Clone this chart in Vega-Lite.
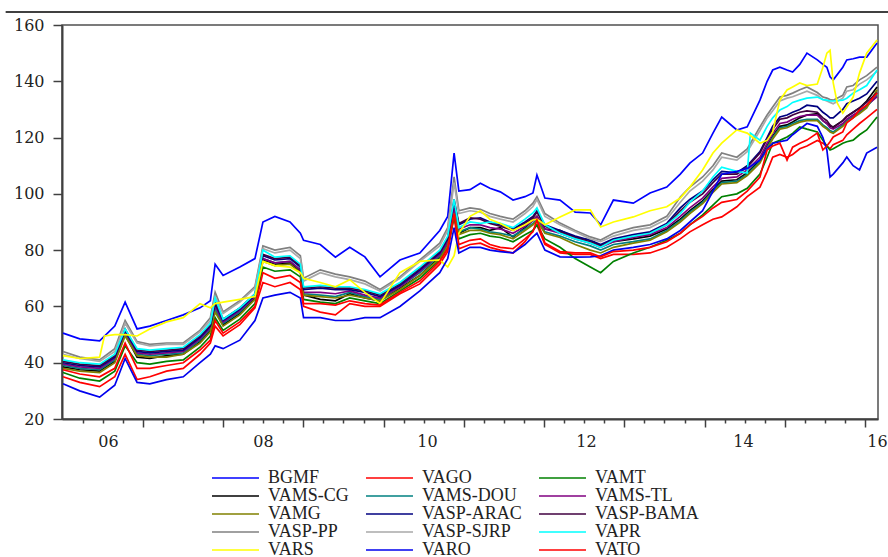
{
"$schema": "https://vega.github.io/schema/vega-lite/v6.json",
"width": 816, "height": 394,
"autosize": {"type": "none"},
"padding": {"left": 62, "top": 25, "right": 10, "bottom": 138},
"background": "white",
"config": {"view": {"stroke": "#505050", "strokeWidth": 1.5}},
"datasets": {"prices": [
{"s":"BGMF","t":2005.45,"v":50.5},{"s":"BGMF","t":2005.66,"v":48.5},{"s":"BGMF","t":2005.91,"v":47.8},{"s":"BGMF","t":2006.10,"v":53},{"s":"BGMF","t":2006.23,"v":61.5},{"s":"BGMF","t":2006.38,"v":52},{"s":"BGMF","t":2006.54,"v":53},{"s":"BGMF","t":2006.75,"v":55},{"s":"BGMF","t":2006.96,"v":57},{"s":"BGMF","t":2007.17,"v":59.5},{"s":"BGMF","t":2007.30,"v":62},{"s":"BGMF","t":2007.36,"v":75},{"s":"BGMF","t":2007.46,"v":71},{"s":"BGMF","t":2007.67,"v":74},{"s":"BGMF","t":2007.86,"v":77},{"s":"BGMF","t":2007.96,"v":90},{"s":"BGMF","t":2008.11,"v":92},{"s":"BGMF","t":2008.30,"v":90},{"s":"BGMF","t":2008.43,"v":86},{"s":"BGMF","t":2008.47,"v":83.5},{"s":"BGMF","t":2008.68,"v":82},{"s":"BGMF","t":2008.87,"v":77.5},{"s":"BGMF","t":2009.05,"v":81},{"s":"BGMF","t":2009.24,"v":77.6},{"s":"BGMF","t":2009.43,"v":70.5},{"s":"BGMF","t":2009.68,"v":76.5},{"s":"BGMF","t":2009.93,"v":79},{"s":"BGMF","t":2010.18,"v":87},{"s":"BGMF","t":2010.28,"v":92},{"s":"BGMF","t":2010.36,"v":114.5},{"s":"BGMF","t":2010.42,"v":101},{"s":"BGMF","t":2010.56,"v":101.5},{"s":"BGMF","t":2010.69,"v":103.8},{"s":"BGMF","t":2010.81,"v":102},{"s":"BGMF","t":2010.94,"v":100.7},{"s":"BGMF","t":2011.10,"v":97.8},{"s":"BGMF","t":2011.25,"v":99},{"s":"BGMF","t":2011.35,"v":100.3},{"s":"BGMF","t":2011.40,"v":106.7},{"s":"BGMF","t":2011.50,"v":98.5},{"s":"BGMF","t":2011.69,"v":97.8},{"s":"BGMF","t":2011.88,"v":93.5},{"s":"BGMF","t":2012.07,"v":93.2},{"s":"BGMF","t":2012.20,"v":89},{"s":"BGMF","t":2012.36,"v":97.8},{"s":"BGMF","t":2012.61,"v":96.7},{"s":"BGMF","t":2012.82,"v":100.3},{"s":"BGMF","t":2013.03,"v":102.4},{"s":"BGMF","t":2013.20,"v":107},{"s":"BGMF","t":2013.32,"v":110.9},{"s":"BGMF","t":2013.48,"v":114.5},{"s":"BGMF","t":2013.61,"v":121.6},{"s":"BGMF","t":2013.72,"v":127.3},{"s":"BGMF","t":2013.91,"v":122.7},{"s":"BGMF","t":2014.04,"v":123.8},{"s":"BGMF","t":2014.20,"v":133.3},{"s":"BGMF","t":2014.29,"v":140},{"s":"BGMF","t":2014.36,"v":144},{"s":"BGMF","t":2014.45,"v":145},{"s":"BGMF","t":2014.54,"v":144},{"s":"BGMF","t":2014.61,"v":143.3},{"s":"BGMF","t":2014.70,"v":146},{"s":"BGMF","t":2014.79,"v":150},{"s":"BGMF","t":2014.92,"v":147.6},{"s":"BGMF","t":2014.99,"v":146},{"s":"BGMF","t":2015.04,"v":145},{"s":"BGMF","t":2015.08,"v":141.6},{"s":"BGMF","t":2015.12,"v":140.5},{"s":"BGMF","t":2015.24,"v":145},{"s":"BGMF","t":2015.29,"v":147.6},{"s":"BGMF","t":2015.37,"v":148},{"s":"BGMF","t":2015.45,"v":148.6},{"s":"BGMF","t":2015.54,"v":148.6},{"s":"BGMF","t":2015.67,"v":153.6},
{"s":"VAGO","t":2005.45,"v":35},{"s":"VAGO","t":2005.66,"v":33},{"s":"VAGO","t":2005.91,"v":31.5},{"s":"VAGO","t":2006.10,"v":35},{"s":"VAGO","t":2006.23,"v":43},{"s":"VAGO","t":2006.38,"v":34},{"s":"VAGO","t":2006.54,"v":35},{"s":"VAGO","t":2006.75,"v":37},{"s":"VAGO","t":2006.96,"v":38},{"s":"VAGO","t":2007.17,"v":43},{"s":"VAGO","t":2007.30,"v":47},{"s":"VAGO","t":2007.36,"v":53},{"s":"VAGO","t":2007.46,"v":49.5},{"s":"VAGO","t":2007.67,"v":53.5},{"s":"VAGO","t":2007.86,"v":59.5},{"s":"VAGO","t":2007.96,"v":68.5},{"s":"VAGO","t":2008.11,"v":67},{"s":"VAGO","t":2008.30,"v":68.5},{"s":"VAGO","t":2008.43,"v":66},{"s":"VAGO","t":2008.47,"v":60},{"s":"VAGO","t":2008.68,"v":58},{"s":"VAGO","t":2008.87,"v":57},{"s":"VAGO","t":2009.05,"v":61},{"s":"VAGO","t":2009.24,"v":60},{"s":"VAGO","t":2009.43,"v":60},{"s":"VAGO","t":2009.68,"v":64.5},{"s":"VAGO","t":2009.93,"v":68},{"s":"VAGO","t":2010.18,"v":75},{"s":"VAGO","t":2010.28,"v":79.5},{"s":"VAGO","t":2010.36,"v":92},{"s":"VAGO","t":2010.42,"v":80.5},{"s":"VAGO","t":2010.56,"v":82},{"s":"VAGO","t":2010.69,"v":82.5},{"s":"VAGO","t":2010.81,"v":81},{"s":"VAGO","t":2010.94,"v":80},{"s":"VAGO","t":2011.10,"v":79},{"s":"VAGO","t":2011.25,"v":83},{"s":"VAGO","t":2011.35,"v":87},{"s":"VAGO","t":2011.40,"v":89},{"s":"VAGO","t":2011.50,"v":82},{"s":"VAGO","t":2011.69,"v":79},{"s":"VAGO","t":2011.88,"v":78.5},{"s":"VAGO","t":2012.07,"v":78.5},{"s":"VAGO","t":2012.20,"v":77},{"s":"VAGO","t":2012.36,"v":78.5},{"s":"VAGO","t":2012.61,"v":78.5},{"s":"VAGO","t":2012.82,"v":79},{"s":"VAGO","t":2013.03,"v":81},{"s":"VAGO","t":2013.20,"v":84},{"s":"VAGO","t":2013.32,"v":86.5},{"s":"VAGO","t":2013.48,"v":89},{"s":"VAGO","t":2013.61,"v":91},{"s":"VAGO","t":2013.72,"v":91.8},{"s":"VAGO","t":2013.91,"v":95.4},{"s":"VAGO","t":2014.04,"v":99},{"s":"VAGO","t":2014.20,"v":102.4},{"s":"VAGO","t":2014.29,"v":108},{"s":"VAGO","t":2014.36,"v":113},{"s":"VAGO","t":2014.45,"v":114},{"s":"VAGO","t":2014.54,"v":113},{"s":"VAGO","t":2014.61,"v":114},{"s":"VAGO","t":2014.70,"v":116},{"s":"VAGO","t":2014.79,"v":117},{"s":"VAGO","t":2014.92,"v":119},{"s":"VAGO","t":2014.99,"v":118},{"s":"VAGO","t":2015.04,"v":117},{"s":"VAGO","t":2015.08,"v":116},{"s":"VAGO","t":2015.12,"v":117.5},{"s":"VAGO","t":2015.24,"v":119},{"s":"VAGO","t":2015.29,"v":121},{"s":"VAGO","t":2015.37,"v":123},{"s":"VAGO","t":2015.45,"v":125},{"s":"VAGO","t":2015.54,"v":127},{"s":"VAGO","t":2015.67,"v":130},
{"s":"VAMT","t":2005.45,"v":36.5},{"s":"VAMT","t":2005.66,"v":34.5},{"s":"VAMT","t":2005.91,"v":33.5},{"s":"VAMT","t":2006.10,"v":37},{"s":"VAMT","t":2006.23,"v":46},{"s":"VAMT","t":2006.38,"v":40},{"s":"VAMT","t":2006.54,"v":39.5},{"s":"VAMT","t":2006.75,"v":40.5},{"s":"VAMT","t":2006.96,"v":41},{"s":"VAMT","t":2007.17,"v":45.5},{"s":"VAMT","t":2007.30,"v":49.5},{"s":"VAMT","t":2007.36,"v":56},{"s":"VAMT","t":2007.46,"v":51.5},{"s":"VAMT","t":2007.67,"v":55.5},{"s":"VAMT","t":2007.86,"v":61},{"s":"VAMT","t":2007.96,"v":74},{"s":"VAMT","t":2008.11,"v":72.5},{"s":"VAMT","t":2008.30,"v":73},{"s":"VAMT","t":2008.43,"v":70.5},{"s":"VAMT","t":2008.47,"v":62.5},{"s":"VAMT","t":2008.68,"v":61.5},{"s":"VAMT","t":2008.87,"v":61},{"s":"VAMT","t":2009.05,"v":63},{"s":"VAMT","t":2009.24,"v":62},{"s":"VAMT","t":2009.43,"v":61},{"s":"VAMT","t":2009.68,"v":65.5},{"s":"VAMT","t":2009.93,"v":70},{"s":"VAMT","t":2010.18,"v":76.5},{"s":"VAMT","t":2010.28,"v":81},{"s":"VAMT","t":2010.36,"v":92},{"s":"VAMT","t":2010.42,"v":84},{"s":"VAMT","t":2010.56,"v":85.5},{"s":"VAMT","t":2010.69,"v":86},{"s":"VAMT","t":2010.81,"v":85},{"s":"VAMT","t":2010.94,"v":84.5},{"s":"VAMT","t":2011.10,"v":83},{"s":"VAMT","t":2011.25,"v":85.5},{"s":"VAMT","t":2011.35,"v":87},{"s":"VAMT","t":2011.40,"v":89},{"s":"VAMT","t":2011.50,"v":84},{"s":"VAMT","t":2011.69,"v":81},{"s":"VAMT","t":2011.88,"v":77},{"s":"VAMT","t":2012.07,"v":74},{"s":"VAMT","t":2012.20,"v":72},{"s":"VAMT","t":2012.36,"v":76},{"s":"VAMT","t":2012.61,"v":79},{"s":"VAMT","t":2012.82,"v":81},{"s":"VAMT","t":2013.03,"v":83.5},{"s":"VAMT","t":2013.20,"v":86},{"s":"VAMT","t":2013.32,"v":89},{"s":"VAMT","t":2013.48,"v":92.5},{"s":"VAMT","t":2013.61,"v":96},{"s":"VAMT","t":2013.72,"v":99},{"s":"VAMT","t":2013.91,"v":100},{"s":"VAMT","t":2014.04,"v":102},{"s":"VAMT","t":2014.20,"v":107},{"s":"VAMT","t":2014.29,"v":113},{"s":"VAMT","t":2014.36,"v":118},{"s":"VAMT","t":2014.45,"v":119},{"s":"VAMT","t":2014.54,"v":120.2},{"s":"VAMT","t":2014.61,"v":121.5},{"s":"VAMT","t":2014.70,"v":123.8},{"s":"VAMT","t":2014.79,"v":123},{"s":"VAMT","t":2014.92,"v":122},{"s":"VAMT","t":2014.99,"v":119},{"s":"VAMT","t":2015.04,"v":117},{"s":"VAMT","t":2015.08,"v":115.6},{"s":"VAMT","t":2015.12,"v":116},{"s":"VAMT","t":2015.24,"v":118},{"s":"VAMT","t":2015.29,"v":118.5},{"s":"VAMT","t":2015.37,"v":119.1},{"s":"VAMT","t":2015.45,"v":121},{"s":"VAMT","t":2015.54,"v":122.7},{"s":"VAMT","t":2015.67,"v":127.3},
{"s":"VAMS-CG","t":2005.45,"v":38.5},{"s":"VAMS-CG","t":2005.66,"v":37.5},{"s":"VAMS-CG","t":2005.91,"v":37},{"s":"VAMS-CG","t":2006.10,"v":40.5},{"s":"VAMS-CG","t":2006.23,"v":50},{"s":"VAMS-CG","t":2006.38,"v":42},{"s":"VAMS-CG","t":2006.54,"v":41.5},{"s":"VAMS-CG","t":2006.75,"v":42.5},{"s":"VAMS-CG","t":2006.96,"v":43},{"s":"VAMS-CG","t":2007.17,"v":47.5},{"s":"VAMS-CG","t":2007.30,"v":51.5},{"s":"VAMS-CG","t":2007.36,"v":58.5},{"s":"VAMS-CG","t":2007.46,"v":53.5},{"s":"VAMS-CG","t":2007.67,"v":57.5},{"s":"VAMS-CG","t":2007.86,"v":63},{"s":"VAMS-CG","t":2007.96,"v":76.5},{"s":"VAMS-CG","t":2008.11,"v":75},{"s":"VAMS-CG","t":2008.30,"v":75.5},{"s":"VAMS-CG","t":2008.43,"v":72.5},{"s":"VAMS-CG","t":2008.47,"v":64},{"s":"VAMS-CG","t":2008.68,"v":62.5},{"s":"VAMS-CG","t":2008.87,"v":62},{"s":"VAMS-CG","t":2009.05,"v":64.5},{"s":"VAMS-CG","t":2009.24,"v":63},{"s":"VAMS-CG","t":2009.43,"v":62},{"s":"VAMS-CG","t":2009.68,"v":66.5},{"s":"VAMS-CG","t":2009.93,"v":71},{"s":"VAMS-CG","t":2010.18,"v":77.5},{"s":"VAMS-CG","t":2010.28,"v":82},{"s":"VAMS-CG","t":2010.36,"v":94},{"s":"VAMS-CG","t":2010.42,"v":86},{"s":"VAMS-CG","t":2010.56,"v":88},{"s":"VAMS-CG","t":2010.69,"v":88},{"s":"VAMS-CG","t":2010.81,"v":87},{"s":"VAMS-CG","t":2010.94,"v":88},{"s":"VAMS-CG","t":2011.10,"v":84.7},{"s":"VAMS-CG","t":2011.25,"v":88},{"s":"VAMS-CG","t":2011.35,"v":90.7},{"s":"VAMS-CG","t":2011.40,"v":92},{"s":"VAMS-CG","t":2011.50,"v":87.5},{"s":"VAMS-CG","t":2011.69,"v":87},{"s":"VAMS-CG","t":2011.88,"v":84.5},{"s":"VAMS-CG","t":2012.07,"v":83.6},{"s":"VAMS-CG","t":2012.20,"v":81.5},{"s":"VAMS-CG","t":2012.36,"v":83},{"s":"VAMS-CG","t":2012.61,"v":84},{"s":"VAMS-CG","t":2012.82,"v":85},{"s":"VAMS-CG","t":2013.03,"v":87.5},{"s":"VAMS-CG","t":2013.20,"v":91},{"s":"VAMS-CG","t":2013.32,"v":94},{"s":"VAMS-CG","t":2013.48,"v":97.5},{"s":"VAMS-CG","t":2013.61,"v":101.5},{"s":"VAMS-CG","t":2013.72,"v":104.5},{"s":"VAMS-CG","t":2013.91,"v":105},{"s":"VAMS-CG","t":2014.04,"v":107.5},{"s":"VAMS-CG","t":2014.20,"v":112},{"s":"VAMS-CG","t":2014.29,"v":117},{"s":"VAMS-CG","t":2014.36,"v":120.5},{"s":"VAMS-CG","t":2014.45,"v":124},{"s":"VAMS-CG","t":2014.54,"v":124.5},{"s":"VAMS-CG","t":2014.61,"v":125.5},{"s":"VAMS-CG","t":2014.70,"v":127},{"s":"VAMS-CG","t":2014.79,"v":128},{"s":"VAMS-CG","t":2014.92,"v":128.5},{"s":"VAMS-CG","t":2014.99,"v":126},{"s":"VAMS-CG","t":2015.04,"v":125},{"s":"VAMS-CG","t":2015.08,"v":124},{"s":"VAMS-CG","t":2015.12,"v":123.8},{"s":"VAMS-CG","t":2015.24,"v":126},{"s":"VAMS-CG","t":2015.29,"v":127.5},{"s":"VAMS-CG","t":2015.37,"v":129},{"s":"VAMS-CG","t":2015.45,"v":130.5},{"s":"VAMS-CG","t":2015.54,"v":133},{"s":"VAMS-CG","t":2015.67,"v":138},
{"s":"VAMS-DOU","t":2005.45,"v":39},{"s":"VAMS-DOU","t":2005.66,"v":38},{"s":"VAMS-DOU","t":2005.91,"v":37.5},{"s":"VAMS-DOU","t":2006.10,"v":41},{"s":"VAMS-DOU","t":2006.23,"v":50.5},{"s":"VAMS-DOU","t":2006.38,"v":43},{"s":"VAMS-DOU","t":2006.54,"v":42.5},{"s":"VAMS-DOU","t":2006.75,"v":43},{"s":"VAMS-DOU","t":2006.96,"v":43.5},{"s":"VAMS-DOU","t":2007.17,"v":48},{"s":"VAMS-DOU","t":2007.30,"v":52},{"s":"VAMS-DOU","t":2007.36,"v":59},{"s":"VAMS-DOU","t":2007.46,"v":54},{"s":"VAMS-DOU","t":2007.67,"v":58},{"s":"VAMS-DOU","t":2007.86,"v":63.5},{"s":"VAMS-DOU","t":2007.96,"v":77},{"s":"VAMS-DOU","t":2008.11,"v":75.5},{"s":"VAMS-DOU","t":2008.30,"v":76},{"s":"VAMS-DOU","t":2008.43,"v":73},{"s":"VAMS-DOU","t":2008.47,"v":64.5},{"s":"VAMS-DOU","t":2008.68,"v":64},{"s":"VAMS-DOU","t":2008.87,"v":63.5},{"s":"VAMS-DOU","t":2009.05,"v":65},{"s":"VAMS-DOU","t":2009.24,"v":63.5},{"s":"VAMS-DOU","t":2009.43,"v":62.5},{"s":"VAMS-DOU","t":2009.68,"v":67},{"s":"VAMS-DOU","t":2009.93,"v":72},{"s":"VAMS-DOU","t":2010.18,"v":78},{"s":"VAMS-DOU","t":2010.28,"v":82.5},{"s":"VAMS-DOU","t":2010.36,"v":94.5},{"s":"VAMS-DOU","t":2010.42,"v":86.5},{"s":"VAMS-DOU","t":2010.56,"v":88},{"s":"VAMS-DOU","t":2010.69,"v":87.5},{"s":"VAMS-DOU","t":2010.81,"v":86.5},{"s":"VAMS-DOU","t":2010.94,"v":86},{"s":"VAMS-DOU","t":2011.10,"v":85},{"s":"VAMS-DOU","t":2011.25,"v":87.5},{"s":"VAMS-DOU","t":2011.35,"v":89.5},{"s":"VAMS-DOU","t":2011.40,"v":91},{"s":"VAMS-DOU","t":2011.50,"v":86.5},{"s":"VAMS-DOU","t":2011.69,"v":85},{"s":"VAMS-DOU","t":2011.88,"v":83},{"s":"VAMS-DOU","t":2012.07,"v":81.5},{"s":"VAMS-DOU","t":2012.20,"v":80},{"s":"VAMS-DOU","t":2012.36,"v":82},{"s":"VAMS-DOU","t":2012.61,"v":83},{"s":"VAMS-DOU","t":2012.82,"v":84},{"s":"VAMS-DOU","t":2013.03,"v":87},{"s":"VAMS-DOU","t":2013.20,"v":90.5},{"s":"VAMS-DOU","t":2013.32,"v":93.5},{"s":"VAMS-DOU","t":2013.48,"v":97},{"s":"VAMS-DOU","t":2013.61,"v":101},{"s":"VAMS-DOU","t":2013.72,"v":104},{"s":"VAMS-DOU","t":2013.91,"v":104.5},{"s":"VAMS-DOU","t":2014.04,"v":107},{"s":"VAMS-DOU","t":2014.20,"v":111.5},{"s":"VAMS-DOU","t":2014.29,"v":116.5},{"s":"VAMS-DOU","t":2014.36,"v":120},{"s":"VAMS-DOU","t":2014.45,"v":123.5},{"s":"VAMS-DOU","t":2014.54,"v":124},{"s":"VAMS-DOU","t":2014.61,"v":125},{"s":"VAMS-DOU","t":2014.70,"v":126},{"s":"VAMS-DOU","t":2014.79,"v":126.5},{"s":"VAMS-DOU","t":2014.92,"v":126.5},{"s":"VAMS-DOU","t":2014.99,"v":124.5},{"s":"VAMS-DOU","t":2015.04,"v":123.5},{"s":"VAMS-DOU","t":2015.08,"v":122.5},{"s":"VAMS-DOU","t":2015.12,"v":122},{"s":"VAMS-DOU","t":2015.24,"v":124.5},{"s":"VAMS-DOU","t":2015.29,"v":126},{"s":"VAMS-DOU","t":2015.37,"v":127.5},{"s":"VAMS-DOU","t":2015.45,"v":129},{"s":"VAMS-DOU","t":2015.54,"v":131},{"s":"VAMS-DOU","t":2015.67,"v":135},
{"s":"VAMS-TL","t":2005.45,"v":39.5},{"s":"VAMS-TL","t":2005.66,"v":38.5},{"s":"VAMS-TL","t":2005.91,"v":38},{"s":"VAMS-TL","t":2006.10,"v":41.5},{"s":"VAMS-TL","t":2006.23,"v":51},{"s":"VAMS-TL","t":2006.38,"v":43.5},{"s":"VAMS-TL","t":2006.54,"v":43},{"s":"VAMS-TL","t":2006.75,"v":43.5},{"s":"VAMS-TL","t":2006.96,"v":44},{"s":"VAMS-TL","t":2007.17,"v":48.5},{"s":"VAMS-TL","t":2007.30,"v":52.5},{"s":"VAMS-TL","t":2007.36,"v":60},{"s":"VAMS-TL","t":2007.46,"v":54.5},{"s":"VAMS-TL","t":2007.67,"v":58.5},{"s":"VAMS-TL","t":2007.86,"v":63.5},{"s":"VAMS-TL","t":2007.96,"v":77},{"s":"VAMS-TL","t":2008.11,"v":75.5},{"s":"VAMS-TL","t":2008.30,"v":76},{"s":"VAMS-TL","t":2008.43,"v":73},{"s":"VAMS-TL","t":2008.47,"v":65},{"s":"VAMS-TL","t":2008.68,"v":65},{"s":"VAMS-TL","t":2008.87,"v":64.5},{"s":"VAMS-TL","t":2009.05,"v":65.5},{"s":"VAMS-TL","t":2009.24,"v":64},{"s":"VAMS-TL","t":2009.43,"v":63},{"s":"VAMS-TL","t":2009.68,"v":67},{"s":"VAMS-TL","t":2009.93,"v":72.5},{"s":"VAMS-TL","t":2010.18,"v":78.5},{"s":"VAMS-TL","t":2010.28,"v":83},{"s":"VAMS-TL","t":2010.36,"v":95},{"s":"VAMS-TL","t":2010.42,"v":87.5},{"s":"VAMS-TL","t":2010.56,"v":89},{"s":"VAMS-TL","t":2010.69,"v":89},{"s":"VAMS-TL","t":2010.81,"v":88},{"s":"VAMS-TL","t":2010.94,"v":87.5},{"s":"VAMS-TL","t":2011.10,"v":86},{"s":"VAMS-TL","t":2011.25,"v":88.5},{"s":"VAMS-TL","t":2011.35,"v":90.5},{"s":"VAMS-TL","t":2011.40,"v":92},{"s":"VAMS-TL","t":2011.50,"v":87.5},{"s":"VAMS-TL","t":2011.69,"v":86},{"s":"VAMS-TL","t":2011.88,"v":84},{"s":"VAMS-TL","t":2012.07,"v":82.5},{"s":"VAMS-TL","t":2012.20,"v":81},{"s":"VAMS-TL","t":2012.36,"v":83},{"s":"VAMS-TL","t":2012.61,"v":84.5},{"s":"VAMS-TL","t":2012.82,"v":85.5},{"s":"VAMS-TL","t":2013.03,"v":88},{"s":"VAMS-TL","t":2013.20,"v":92},{"s":"VAMS-TL","t":2013.32,"v":95},{"s":"VAMS-TL","t":2013.48,"v":98.5},{"s":"VAMS-TL","t":2013.61,"v":102.5},{"s":"VAMS-TL","t":2013.72,"v":105.5},{"s":"VAMS-TL","t":2013.91,"v":106},{"s":"VAMS-TL","t":2014.04,"v":108.5},{"s":"VAMS-TL","t":2014.20,"v":113},{"s":"VAMS-TL","t":2014.29,"v":118},{"s":"VAMS-TL","t":2014.36,"v":121.5},{"s":"VAMS-TL","t":2014.45,"v":125},{"s":"VAMS-TL","t":2014.54,"v":125.5},{"s":"VAMS-TL","t":2014.61,"v":126.5},{"s":"VAMS-TL","t":2014.70,"v":127.5},{"s":"VAMS-TL","t":2014.79,"v":128},{"s":"VAMS-TL","t":2014.92,"v":128},{"s":"VAMS-TL","t":2014.99,"v":126},{"s":"VAMS-TL","t":2015.04,"v":125},{"s":"VAMS-TL","t":2015.08,"v":123.5},{"s":"VAMS-TL","t":2015.12,"v":123},{"s":"VAMS-TL","t":2015.24,"v":125},{"s":"VAMS-TL","t":2015.29,"v":126.5},{"s":"VAMS-TL","t":2015.37,"v":128},{"s":"VAMS-TL","t":2015.45,"v":129.5},{"s":"VAMS-TL","t":2015.54,"v":131.5},{"s":"VAMS-TL","t":2015.67,"v":134.5},
{"s":"VAMG","t":2005.45,"v":38},{"s":"VAMG","t":2005.66,"v":37},{"s":"VAMG","t":2005.91,"v":36.5},{"s":"VAMG","t":2006.10,"v":40},{"s":"VAMG","t":2006.23,"v":49.5},{"s":"VAMG","t":2006.38,"v":42.5},{"s":"VAMG","t":2006.54,"v":42},{"s":"VAMG","t":2006.75,"v":42},{"s":"VAMG","t":2006.96,"v":43},{"s":"VAMG","t":2007.17,"v":47},{"s":"VAMG","t":2007.30,"v":51},{"s":"VAMG","t":2007.36,"v":58},{"s":"VAMG","t":2007.46,"v":53},{"s":"VAMG","t":2007.67,"v":57},{"s":"VAMG","t":2007.86,"v":62.5},{"s":"VAMG","t":2007.96,"v":76},{"s":"VAMG","t":2008.11,"v":74.5},{"s":"VAMG","t":2008.30,"v":75},{"s":"VAMG","t":2008.43,"v":72},{"s":"VAMG","t":2008.47,"v":64},{"s":"VAMG","t":2008.68,"v":63.5},{"s":"VAMG","t":2008.87,"v":63},{"s":"VAMG","t":2009.05,"v":64},{"s":"VAMG","t":2009.24,"v":63},{"s":"VAMG","t":2009.43,"v":62},{"s":"VAMG","t":2009.68,"v":66},{"s":"VAMG","t":2009.93,"v":71},{"s":"VAMG","t":2010.18,"v":77},{"s":"VAMG","t":2010.28,"v":81.5},{"s":"VAMG","t":2010.36,"v":93},{"s":"VAMG","t":2010.42,"v":85.5},{"s":"VAMG","t":2010.56,"v":87},{"s":"VAMG","t":2010.69,"v":87},{"s":"VAMG","t":2010.81,"v":86},{"s":"VAMG","t":2010.94,"v":85.5},{"s":"VAMG","t":2011.10,"v":84},{"s":"VAMG","t":2011.25,"v":87},{"s":"VAMG","t":2011.35,"v":89},{"s":"VAMG","t":2011.40,"v":90.5},{"s":"VAMG","t":2011.50,"v":86},{"s":"VAMG","t":2011.69,"v":84.5},{"s":"VAMG","t":2011.88,"v":82},{"s":"VAMG","t":2012.07,"v":80},{"s":"VAMG","t":2012.20,"v":79},{"s":"VAMG","t":2012.36,"v":81},{"s":"VAMG","t":2012.61,"v":82.5},{"s":"VAMG","t":2012.82,"v":83.5},{"s":"VAMG","t":2013.03,"v":86.5},{"s":"VAMG","t":2013.20,"v":90},{"s":"VAMG","t":2013.32,"v":93},{"s":"VAMG","t":2013.48,"v":96.5},{"s":"VAMG","t":2013.61,"v":100.5},{"s":"VAMG","t":2013.72,"v":103.5},{"s":"VAMG","t":2013.91,"v":104},{"s":"VAMG","t":2014.04,"v":106.5},{"s":"VAMG","t":2014.20,"v":111},{"s":"VAMG","t":2014.29,"v":116},{"s":"VAMG","t":2014.36,"v":119.5},{"s":"VAMG","t":2014.45,"v":123},{"s":"VAMG","t":2014.54,"v":123.5},{"s":"VAMG","t":2014.61,"v":124.5},{"s":"VAMG","t":2014.70,"v":125.5},{"s":"VAMG","t":2014.79,"v":126},{"s":"VAMG","t":2014.92,"v":126},{"s":"VAMG","t":2014.99,"v":124},{"s":"VAMG","t":2015.04,"v":123},{"s":"VAMG","t":2015.08,"v":122},{"s":"VAMG","t":2015.12,"v":121.5},{"s":"VAMG","t":2015.24,"v":124},{"s":"VAMG","t":2015.29,"v":125.5},{"s":"VAMG","t":2015.37,"v":127},{"s":"VAMG","t":2015.45,"v":128.5},{"s":"VAMG","t":2015.54,"v":130.5},{"s":"VAMG","t":2015.67,"v":137},
{"s":"VASP-ARAC","t":2005.45,"v":40},{"s":"VASP-ARAC","t":2005.66,"v":39},{"s":"VASP-ARAC","t":2005.91,"v":38.5},{"s":"VASP-ARAC","t":2006.10,"v":42},{"s":"VASP-ARAC","t":2006.23,"v":51.5},{"s":"VASP-ARAC","t":2006.38,"v":44},{"s":"VASP-ARAC","t":2006.54,"v":43.5},{"s":"VASP-ARAC","t":2006.75,"v":44},{"s":"VASP-ARAC","t":2006.96,"v":44.5},{"s":"VASP-ARAC","t":2007.17,"v":49},{"s":"VASP-ARAC","t":2007.30,"v":53},{"s":"VASP-ARAC","t":2007.36,"v":61},{"s":"VASP-ARAC","t":2007.46,"v":55},{"s":"VASP-ARAC","t":2007.67,"v":59},{"s":"VASP-ARAC","t":2007.86,"v":64},{"s":"VASP-ARAC","t":2007.96,"v":78},{"s":"VASP-ARAC","t":2008.11,"v":76.5},{"s":"VASP-ARAC","t":2008.30,"v":77},{"s":"VASP-ARAC","t":2008.43,"v":74},{"s":"VASP-ARAC","t":2008.47,"v":66},{"s":"VASP-ARAC","t":2008.68,"v":66.5},{"s":"VASP-ARAC","t":2008.87,"v":66},{"s":"VASP-ARAC","t":2009.05,"v":66},{"s":"VASP-ARAC","t":2009.24,"v":65},{"s":"VASP-ARAC","t":2009.43,"v":63.5},{"s":"VASP-ARAC","t":2009.68,"v":67.5},{"s":"VASP-ARAC","t":2009.93,"v":73},{"s":"VASP-ARAC","t":2010.18,"v":79},{"s":"VASP-ARAC","t":2010.28,"v":84},{"s":"VASP-ARAC","t":2010.36,"v":97},{"s":"VASP-ARAC","t":2010.42,"v":89},{"s":"VASP-ARAC","t":2010.56,"v":91},{"s":"VASP-ARAC","t":2010.69,"v":91.5},{"s":"VASP-ARAC","t":2010.81,"v":90},{"s":"VASP-ARAC","t":2010.94,"v":89},{"s":"VASP-ARAC","t":2011.10,"v":87.5},{"s":"VASP-ARAC","t":2011.25,"v":90},{"s":"VASP-ARAC","t":2011.35,"v":92},{"s":"VASP-ARAC","t":2011.40,"v":94},{"s":"VASP-ARAC","t":2011.50,"v":89},{"s":"VASP-ARAC","t":2011.69,"v":87},{"s":"VASP-ARAC","t":2011.88,"v":85},{"s":"VASP-ARAC","t":2012.07,"v":83.5},{"s":"VASP-ARAC","t":2012.20,"v":82},{"s":"VASP-ARAC","t":2012.36,"v":84},{"s":"VASP-ARAC","t":2012.61,"v":85.5},{"s":"VASP-ARAC","t":2012.82,"v":86.5},{"s":"VASP-ARAC","t":2013.03,"v":89.5},{"s":"VASP-ARAC","t":2013.20,"v":95},{"s":"VASP-ARAC","t":2013.32,"v":98},{"s":"VASP-ARAC","t":2013.48,"v":101},{"s":"VASP-ARAC","t":2013.61,"v":105},{"s":"VASP-ARAC","t":2013.72,"v":108},{"s":"VASP-ARAC","t":2013.91,"v":107.5},{"s":"VASP-ARAC","t":2014.04,"v":110},{"s":"VASP-ARAC","t":2014.20,"v":115},{"s":"VASP-ARAC","t":2014.29,"v":120},{"s":"VASP-ARAC","t":2014.36,"v":124},{"s":"VASP-ARAC","t":2014.45,"v":127.3},{"s":"VASP-ARAC","t":2014.54,"v":128},{"s":"VASP-ARAC","t":2014.61,"v":129},{"s":"VASP-ARAC","t":2014.70,"v":130},{"s":"VASP-ARAC","t":2014.79,"v":131.5},{"s":"VASP-ARAC","t":2014.92,"v":131},{"s":"VASP-ARAC","t":2014.99,"v":129},{"s":"VASP-ARAC","t":2015.04,"v":128},{"s":"VASP-ARAC","t":2015.08,"v":127},{"s":"VASP-ARAC","t":2015.12,"v":127},{"s":"VASP-ARAC","t":2015.24,"v":130},{"s":"VASP-ARAC","t":2015.29,"v":132},{"s":"VASP-ARAC","t":2015.37,"v":133},{"s":"VASP-ARAC","t":2015.45,"v":134},{"s":"VASP-ARAC","t":2015.54,"v":135.5},{"s":"VASP-ARAC","t":2015.67,"v":140},
{"s":"VASP-BAMA","t":2005.45,"v":40.5},{"s":"VASP-BAMA","t":2005.66,"v":39.5},{"s":"VASP-BAMA","t":2005.91,"v":39},{"s":"VASP-BAMA","t":2006.10,"v":42.5},{"s":"VASP-BAMA","t":2006.23,"v":52},{"s":"VASP-BAMA","t":2006.38,"v":44.5},{"s":"VASP-BAMA","t":2006.54,"v":44},{"s":"VASP-BAMA","t":2006.75,"v":44.5},{"s":"VASP-BAMA","t":2006.96,"v":45},{"s":"VASP-BAMA","t":2007.17,"v":49.5},{"s":"VASP-BAMA","t":2007.30,"v":53.5},{"s":"VASP-BAMA","t":2007.36,"v":61.5},{"s":"VASP-BAMA","t":2007.46,"v":55.5},{"s":"VASP-BAMA","t":2007.67,"v":59.5},{"s":"VASP-BAMA","t":2007.86,"v":64.5},{"s":"VASP-BAMA","t":2007.96,"v":78.5},{"s":"VASP-BAMA","t":2008.11,"v":77},{"s":"VASP-BAMA","t":2008.30,"v":77.5},{"s":"VASP-BAMA","t":2008.43,"v":74.5},{"s":"VASP-BAMA","t":2008.47,"v":66.5},{"s":"VASP-BAMA","t":2008.68,"v":67},{"s":"VASP-BAMA","t":2008.87,"v":66.5},{"s":"VASP-BAMA","t":2009.05,"v":66.5},{"s":"VASP-BAMA","t":2009.24,"v":65.5},{"s":"VASP-BAMA","t":2009.43,"v":64},{"s":"VASP-BAMA","t":2009.68,"v":68},{"s":"VASP-BAMA","t":2009.93,"v":73.5},{"s":"VASP-BAMA","t":2010.18,"v":79.5},{"s":"VASP-BAMA","t":2010.28,"v":84.5},{"s":"VASP-BAMA","t":2010.36,"v":98},{"s":"VASP-BAMA","t":2010.42,"v":89.5},{"s":"VASP-BAMA","t":2010.56,"v":91.5},{"s":"VASP-BAMA","t":2010.69,"v":91},{"s":"VASP-BAMA","t":2010.81,"v":89.5},{"s":"VASP-BAMA","t":2010.94,"v":88.5},{"s":"VASP-BAMA","t":2011.10,"v":87},{"s":"VASP-BAMA","t":2011.25,"v":89.5},{"s":"VASP-BAMA","t":2011.35,"v":91.5},{"s":"VASP-BAMA","t":2011.40,"v":93.5},{"s":"VASP-BAMA","t":2011.50,"v":88.5},{"s":"VASP-BAMA","t":2011.69,"v":86.5},{"s":"VASP-BAMA","t":2011.88,"v":84.5},{"s":"VASP-BAMA","t":2012.07,"v":83},{"s":"VASP-BAMA","t":2012.20,"v":81.5},{"s":"VASP-BAMA","t":2012.36,"v":83.5},{"s":"VASP-BAMA","t":2012.61,"v":85},{"s":"VASP-BAMA","t":2012.82,"v":86},{"s":"VASP-BAMA","t":2013.03,"v":89},{"s":"VASP-BAMA","t":2013.20,"v":94},{"s":"VASP-BAMA","t":2013.32,"v":97},{"s":"VASP-BAMA","t":2013.48,"v":100},{"s":"VASP-BAMA","t":2013.61,"v":104},{"s":"VASP-BAMA","t":2013.72,"v":107},{"s":"VASP-BAMA","t":2013.91,"v":107},{"s":"VASP-BAMA","t":2014.04,"v":109.5},{"s":"VASP-BAMA","t":2014.20,"v":114.5},{"s":"VASP-BAMA","t":2014.29,"v":119.5},{"s":"VASP-BAMA","t":2014.36,"v":123},{"s":"VASP-BAMA","t":2014.45,"v":126.5},{"s":"VASP-BAMA","t":2014.54,"v":127},{"s":"VASP-BAMA","t":2014.61,"v":128},{"s":"VASP-BAMA","t":2014.70,"v":129},{"s":"VASP-BAMA","t":2014.79,"v":129.5},{"s":"VASP-BAMA","t":2014.92,"v":129},{"s":"VASP-BAMA","t":2014.99,"v":127},{"s":"VASP-BAMA","t":2015.04,"v":126},{"s":"VASP-BAMA","t":2015.08,"v":124.5},{"s":"VASP-BAMA","t":2015.12,"v":123.5},{"s":"VASP-BAMA","t":2015.24,"v":126},{"s":"VASP-BAMA","t":2015.29,"v":127.5},{"s":"VASP-BAMA","t":2015.37,"v":129},{"s":"VASP-BAMA","t":2015.45,"v":130.5},{"s":"VASP-BAMA","t":2015.54,"v":132.5},{"s":"VASP-BAMA","t":2015.67,"v":136},
{"s":"VASP-PP","t":2005.45,"v":44},{"s":"VASP-PP","t":2005.66,"v":42},{"s":"VASP-PP","t":2005.91,"v":41},{"s":"VASP-PP","t":2006.10,"v":45},{"s":"VASP-PP","t":2006.23,"v":55},{"s":"VASP-PP","t":2006.38,"v":47.5},{"s":"VASP-PP","t":2006.54,"v":46.5},{"s":"VASP-PP","t":2006.75,"v":47},{"s":"VASP-PP","t":2006.96,"v":47},{"s":"VASP-PP","t":2007.17,"v":51.5},{"s":"VASP-PP","t":2007.30,"v":56},{"s":"VASP-PP","t":2007.36,"v":65},{"s":"VASP-PP","t":2007.46,"v":58},{"s":"VASP-PP","t":2007.67,"v":62},{"s":"VASP-PP","t":2007.86,"v":67},{"s":"VASP-PP","t":2007.96,"v":81.5},{"s":"VASP-PP","t":2008.11,"v":80},{"s":"VASP-PP","t":2008.30,"v":81},{"s":"VASP-PP","t":2008.43,"v":78},{"s":"VASP-PP","t":2008.47,"v":70},{"s":"VASP-PP","t":2008.68,"v":73},{"s":"VASP-PP","t":2008.87,"v":71.5},{"s":"VASP-PP","t":2009.05,"v":70.5},{"s":"VASP-PP","t":2009.24,"v":69},{"s":"VASP-PP","t":2009.43,"v":66},{"s":"VASP-PP","t":2009.68,"v":70.5},{"s":"VASP-PP","t":2009.93,"v":76.5},{"s":"VASP-PP","t":2010.18,"v":82.5},{"s":"VASP-PP","t":2010.28,"v":88},{"s":"VASP-PP","t":2010.36,"v":106},{"s":"VASP-PP","t":2010.42,"v":94},{"s":"VASP-PP","t":2010.56,"v":95},{"s":"VASP-PP","t":2010.69,"v":94.5},{"s":"VASP-PP","t":2010.81,"v":93},{"s":"VASP-PP","t":2010.94,"v":92},{"s":"VASP-PP","t":2011.10,"v":91},{"s":"VASP-PP","t":2011.25,"v":94},{"s":"VASP-PP","t":2011.35,"v":96.7},{"s":"VASP-PP","t":2011.40,"v":99},{"s":"VASP-PP","t":2011.50,"v":93},{"s":"VASP-PP","t":2011.69,"v":89.6},{"s":"VASP-PP","t":2011.88,"v":87},{"s":"VASP-PP","t":2012.07,"v":84.7},{"s":"VASP-PP","t":2012.20,"v":83.6},{"s":"VASP-PP","t":2012.36,"v":86},{"s":"VASP-PP","t":2012.61,"v":88},{"s":"VASP-PP","t":2012.82,"v":89},{"s":"VASP-PP","t":2013.03,"v":92},{"s":"VASP-PP","t":2013.20,"v":98.9},{"s":"VASP-PP","t":2013.32,"v":102.4},{"s":"VASP-PP","t":2013.48,"v":106},{"s":"VASP-PP","t":2013.61,"v":110},{"s":"VASP-PP","t":2013.72,"v":114.5},{"s":"VASP-PP","t":2013.91,"v":113},{"s":"VASP-PP","t":2014.04,"v":116},{"s":"VASP-PP","t":2014.20,"v":123.8},{"s":"VASP-PP","t":2014.29,"v":128},{"s":"VASP-PP","t":2014.36,"v":130.9},{"s":"VASP-PP","t":2014.45,"v":134.4},{"s":"VASP-PP","t":2014.54,"v":135},{"s":"VASP-PP","t":2014.61,"v":135.8},{"s":"VASP-PP","t":2014.70,"v":137},{"s":"VASP-PP","t":2014.79,"v":138},{"s":"VASP-PP","t":2014.92,"v":136},{"s":"VASP-PP","t":2014.99,"v":134.4},{"s":"VASP-PP","t":2015.04,"v":134},{"s":"VASP-PP","t":2015.08,"v":133.5},{"s":"VASP-PP","t":2015.12,"v":133.3},{"s":"VASP-PP","t":2015.24,"v":135},{"s":"VASP-PP","t":2015.29,"v":138},{"s":"VASP-PP","t":2015.37,"v":138.5},{"s":"VASP-PP","t":2015.45,"v":140.5},{"s":"VASP-PP","t":2015.54,"v":142},{"s":"VASP-PP","t":2015.67,"v":145},
{"s":"VASP-SJRP","t":2005.45,"v":43},{"s":"VASP-SJRP","t":2005.66,"v":41.5},{"s":"VASP-SJRP","t":2005.91,"v":40.5},{"s":"VASP-SJRP","t":2006.10,"v":44},{"s":"VASP-SJRP","t":2006.23,"v":54},{"s":"VASP-SJRP","t":2006.38,"v":47},{"s":"VASP-SJRP","t":2006.54,"v":46},{"s":"VASP-SJRP","t":2006.75,"v":46.5},{"s":"VASP-SJRP","t":2006.96,"v":46.5},{"s":"VASP-SJRP","t":2007.17,"v":51},{"s":"VASP-SJRP","t":2007.30,"v":55},{"s":"VASP-SJRP","t":2007.36,"v":63.5},{"s":"VASP-SJRP","t":2007.46,"v":57.5},{"s":"VASP-SJRP","t":2007.67,"v":61.5},{"s":"VASP-SJRP","t":2007.86,"v":66.5},{"s":"VASP-SJRP","t":2007.96,"v":80.5},{"s":"VASP-SJRP","t":2008.11,"v":79},{"s":"VASP-SJRP","t":2008.30,"v":80},{"s":"VASP-SJRP","t":2008.43,"v":77},{"s":"VASP-SJRP","t":2008.47,"v":69},{"s":"VASP-SJRP","t":2008.68,"v":72},{"s":"VASP-SJRP","t":2008.87,"v":70.5},{"s":"VASP-SJRP","t":2009.05,"v":69.5},{"s":"VASP-SJRP","t":2009.24,"v":68},{"s":"VASP-SJRP","t":2009.43,"v":65.5},{"s":"VASP-SJRP","t":2009.68,"v":70},{"s":"VASP-SJRP","t":2009.93,"v":76},{"s":"VASP-SJRP","t":2010.18,"v":81.5},{"s":"VASP-SJRP","t":2010.28,"v":87},{"s":"VASP-SJRP","t":2010.36,"v":104},{"s":"VASP-SJRP","t":2010.42,"v":93},{"s":"VASP-SJRP","t":2010.56,"v":94},{"s":"VASP-SJRP","t":2010.69,"v":93.5},{"s":"VASP-SJRP","t":2010.81,"v":92},{"s":"VASP-SJRP","t":2010.94,"v":91},{"s":"VASP-SJRP","t":2011.10,"v":90},{"s":"VASP-SJRP","t":2011.25,"v":93},{"s":"VASP-SJRP","t":2011.35,"v":95.5},{"s":"VASP-SJRP","t":2011.40,"v":98},{"s":"VASP-SJRP","t":2011.50,"v":92},{"s":"VASP-SJRP","t":2011.69,"v":89},{"s":"VASP-SJRP","t":2011.88,"v":86.5},{"s":"VASP-SJRP","t":2012.07,"v":84},{"s":"VASP-SJRP","t":2012.20,"v":83},{"s":"VASP-SJRP","t":2012.36,"v":85},{"s":"VASP-SJRP","t":2012.61,"v":87},{"s":"VASP-SJRP","t":2012.82,"v":88},{"s":"VASP-SJRP","t":2013.03,"v":91},{"s":"VASP-SJRP","t":2013.20,"v":97},{"s":"VASP-SJRP","t":2013.32,"v":101},{"s":"VASP-SJRP","t":2013.48,"v":104.5},{"s":"VASP-SJRP","t":2013.61,"v":108.5},{"s":"VASP-SJRP","t":2013.72,"v":113},{"s":"VASP-SJRP","t":2013.91,"v":112},{"s":"VASP-SJRP","t":2014.04,"v":115},{"s":"VASP-SJRP","t":2014.20,"v":122.5},{"s":"VASP-SJRP","t":2014.29,"v":127},{"s":"VASP-SJRP","t":2014.36,"v":129.5},{"s":"VASP-SJRP","t":2014.45,"v":133},{"s":"VASP-SJRP","t":2014.54,"v":134},{"s":"VASP-SJRP","t":2014.61,"v":134.5},{"s":"VASP-SJRP","t":2014.70,"v":135.5},{"s":"VASP-SJRP","t":2014.79,"v":136.5},{"s":"VASP-SJRP","t":2014.92,"v":135},{"s":"VASP-SJRP","t":2014.99,"v":133.5},{"s":"VASP-SJRP","t":2015.04,"v":133},{"s":"VASP-SJRP","t":2015.08,"v":132.5},{"s":"VASP-SJRP","t":2015.12,"v":132},{"s":"VASP-SJRP","t":2015.24,"v":134},{"s":"VASP-SJRP","t":2015.29,"v":136.5},{"s":"VASP-SJRP","t":2015.37,"v":137},{"s":"VASP-SJRP","t":2015.45,"v":139},{"s":"VASP-SJRP","t":2015.54,"v":140.5},{"s":"VASP-SJRP","t":2015.67,"v":143.5},
{"s":"VAPR","t":2005.45,"v":41},{"s":"VAPR","t":2005.66,"v":40},{"s":"VAPR","t":2005.91,"v":39.5},{"s":"VAPR","t":2006.10,"v":43},{"s":"VAPR","t":2006.23,"v":52},{"s":"VAPR","t":2006.38,"v":45},{"s":"VAPR","t":2006.54,"v":44.5},{"s":"VAPR","t":2006.75,"v":45},{"s":"VAPR","t":2006.96,"v":45.5},{"s":"VAPR","t":2007.17,"v":50},{"s":"VAPR","t":2007.30,"v":54},{"s":"VAPR","t":2007.36,"v":63},{"s":"VAPR","t":2007.46,"v":55.5},{"s":"VAPR","t":2007.67,"v":59.5},{"s":"VAPR","t":2007.86,"v":64.5},{"s":"VAPR","t":2007.96,"v":80},{"s":"VAPR","t":2008.11,"v":77.5},{"s":"VAPR","t":2008.30,"v":78},{"s":"VAPR","t":2008.43,"v":75},{"s":"VAPR","t":2008.47,"v":67},{"s":"VAPR","t":2008.68,"v":67.5},{"s":"VAPR","t":2008.87,"v":67},{"s":"VAPR","t":2009.05,"v":67},{"s":"VAPR","t":2009.24,"v":66},{"s":"VAPR","t":2009.43,"v":64.5},{"s":"VAPR","t":2009.68,"v":68.5},{"s":"VAPR","t":2009.93,"v":74},{"s":"VAPR","t":2010.18,"v":80},{"s":"VAPR","t":2010.28,"v":85},{"s":"VAPR","t":2010.36,"v":98},{"s":"VAPR","t":2010.42,"v":88},{"s":"VAPR","t":2010.56,"v":90},{"s":"VAPR","t":2010.69,"v":89.5},{"s":"VAPR","t":2010.81,"v":90},{"s":"VAPR","t":2010.94,"v":89.5},{"s":"VAPR","t":2011.10,"v":88},{"s":"VAPR","t":2011.25,"v":91},{"s":"VAPR","t":2011.35,"v":93.2},{"s":"VAPR","t":2011.40,"v":95},{"s":"VAPR","t":2011.50,"v":89},{"s":"VAPR","t":2011.69,"v":86},{"s":"VAPR","t":2011.88,"v":84},{"s":"VAPR","t":2012.07,"v":82.5},{"s":"VAPR","t":2012.20,"v":81},{"s":"VAPR","t":2012.36,"v":83.5},{"s":"VAPR","t":2012.61,"v":85},{"s":"VAPR","t":2012.82,"v":86},{"s":"VAPR","t":2013.03,"v":89},{"s":"VAPR","t":2013.20,"v":93},{"s":"VAPR","t":2013.32,"v":97},{"s":"VAPR","t":2013.48,"v":101},{"s":"VAPR","t":2013.61,"v":106},{"s":"VAPR","t":2013.72,"v":109.5},{"s":"VAPR","t":2013.91,"v":108},{"s":"VAPR","t":2014.04,"v":107.4},{"s":"VAPR","t":2014.08,"v":121.6},{"s":"VAPR","t":2014.20,"v":119.1},{"s":"VAPR","t":2014.29,"v":124},{"s":"VAPR","t":2014.36,"v":127},{"s":"VAPR","t":2014.45,"v":129.8},{"s":"VAPR","t":2014.54,"v":131},{"s":"VAPR","t":2014.61,"v":132.5},{"s":"VAPR","t":2014.70,"v":133.3},{"s":"VAPR","t":2014.79,"v":134},{"s":"VAPR","t":2014.92,"v":134.4},{"s":"VAPR","t":2014.99,"v":133.5},{"s":"VAPR","t":2015.04,"v":133.3},{"s":"VAPR","t":2015.08,"v":133},{"s":"VAPR","t":2015.12,"v":133},{"s":"VAPR","t":2015.24,"v":133.3},{"s":"VAPR","t":2015.29,"v":134},{"s":"VAPR","t":2015.37,"v":135.8},{"s":"VAPR","t":2015.45,"v":137},{"s":"VAPR","t":2015.54,"v":138.5},{"s":"VAPR","t":2015.67,"v":144},
{"s":"VARS","t":2005.45,"v":42.5},{"s":"VARS","t":2005.66,"v":41.5},{"s":"VARS","t":2005.91,"v":42},{"s":"VARS","t":2005.97,"v":49.5},{"s":"VARS","t":2006.10,"v":50},{"s":"VARS","t":2006.23,"v":50},{"s":"VARS","t":2006.38,"v":49.5},{"s":"VARS","t":2006.54,"v":52},{"s":"VARS","t":2006.75,"v":54.5},{"s":"VARS","t":2006.96,"v":56},{"s":"VARS","t":2007.17,"v":61},{"s":"VARS","t":2007.30,"v":59.5},{"s":"VARS","t":2007.36,"v":61},{"s":"VARS","t":2007.46,"v":61.5},{"s":"VARS","t":2007.67,"v":62.5},{"s":"VARS","t":2007.86,"v":63.5},{"s":"VARS","t":2007.96,"v":76},{"s":"VARS","t":2008.11,"v":74.5},{"s":"VARS","t":2008.30,"v":74},{"s":"VARS","t":2008.43,"v":72},{"s":"VARS","t":2008.47,"v":70},{"s":"VARS","t":2008.68,"v":68.5},{"s":"VARS","t":2008.87,"v":67},{"s":"VARS","t":2009.05,"v":69.5},{"s":"VARS","t":2009.24,"v":65},{"s":"VARS","t":2009.43,"v":61},{"s":"VARS","t":2009.68,"v":72},{"s":"VARS","t":2009.93,"v":76},{"s":"VARS","t":2010.18,"v":76.5},{"s":"VARS","t":2010.28,"v":74},{"s":"VARS","t":2010.36,"v":78},{"s":"VARS","t":2010.42,"v":86},{"s":"VARS","t":2010.56,"v":92},{"s":"VARS","t":2010.69,"v":94},{"s":"VARS","t":2010.81,"v":91},{"s":"VARS","t":2010.94,"v":89.5},{"s":"VARS","t":2011.10,"v":87},{"s":"VARS","t":2011.25,"v":89},{"s":"VARS","t":2011.35,"v":90.7},{"s":"VARS","t":2011.40,"v":91},{"s":"VARS","t":2011.50,"v":89},{"s":"VARS","t":2011.69,"v":91.8},{"s":"VARS","t":2011.88,"v":94.3},{"s":"VARS","t":2012.07,"v":94.3},{"s":"VARS","t":2012.20,"v":88.2},{"s":"VARS","t":2012.36,"v":90},{"s":"VARS","t":2012.61,"v":91.8},{"s":"VARS","t":2012.82,"v":94},{"s":"VARS","t":2013.03,"v":95.4},{"s":"VARS","t":2013.20,"v":98.5},{"s":"VARS","t":2013.32,"v":102.4},{"s":"VARS","t":2013.48,"v":108.5},{"s":"VARS","t":2013.61,"v":114.5},{"s":"VARS","t":2013.72,"v":118},{"s":"VARS","t":2013.91,"v":122.7},{"s":"VARS","t":2014.04,"v":121.6},{"s":"VARS","t":2014.20,"v":118},{"s":"VARS","t":2014.29,"v":119},{"s":"VARS","t":2014.36,"v":122},{"s":"VARS","t":2014.45,"v":133.3},{"s":"VARS","t":2014.54,"v":136.9},{"s":"VARS","t":2014.61,"v":138},{"s":"VARS","t":2014.70,"v":139.4},{"s":"VARS","t":2014.79,"v":138.5},{"s":"VARS","t":2014.92,"v":139},{"s":"VARS","t":2014.99,"v":145},{"s":"VARS","t":2015.04,"v":150},{"s":"VARS","t":2015.08,"v":151},{"s":"VARS","t":2015.12,"v":139.4},{"s":"VARS","t":2015.17,"v":132.3},{"s":"VARS","t":2015.24,"v":128.7},{"s":"VARS","t":2015.37,"v":134.4},{"s":"VARS","t":2015.45,"v":142.9},{"s":"VARS","t":2015.54,"v":150},{"s":"VARS","t":2015.67,"v":154.7},
{"s":"VARO","t":2005.45,"v":32.5},{"s":"VARO","t":2005.66,"v":30},{"s":"VARO","t":2005.91,"v":27.8},{"s":"VARO","t":2006.10,"v":32},{"s":"VARO","t":2006.23,"v":41.5},{"s":"VARO","t":2006.38,"v":33},{"s":"VARO","t":2006.54,"v":32.5},{"s":"VARO","t":2006.75,"v":34},{"s":"VARO","t":2006.96,"v":35},{"s":"VARO","t":2007.17,"v":40},{"s":"VARO","t":2007.30,"v":43},{"s":"VARO","t":2007.36,"v":46},{"s":"VARO","t":2007.46,"v":45},{"s":"VARO","t":2007.67,"v":48},{"s":"VARO","t":2007.86,"v":55},{"s":"VARO","t":2007.96,"v":63},{"s":"VARO","t":2008.11,"v":64},{"s":"VARO","t":2008.30,"v":65},{"s":"VARO","t":2008.43,"v":63},{"s":"VARO","t":2008.47,"v":56},{"s":"VARO","t":2008.68,"v":56},{"s":"VARO","t":2008.87,"v":55},{"s":"VARO","t":2009.05,"v":55},{"s":"VARO","t":2009.24,"v":56},{"s":"VARO","t":2009.43,"v":56},{"s":"VARO","t":2009.68,"v":60},{"s":"VARO","t":2009.93,"v":65.5},{"s":"VARO","t":2010.18,"v":72},{"s":"VARO","t":2010.28,"v":77},{"s":"VARO","t":2010.36,"v":88},{"s":"VARO","t":2010.42,"v":79},{"s":"VARO","t":2010.56,"v":81},{"s":"VARO","t":2010.69,"v":81},{"s":"VARO","t":2010.81,"v":80},{"s":"VARO","t":2010.94,"v":79.5},{"s":"VARO","t":2011.10,"v":79},{"s":"VARO","t":2011.25,"v":82},{"s":"VARO","t":2011.35,"v":84.7},{"s":"VARO","t":2011.40,"v":86},{"s":"VARO","t":2011.50,"v":80},{"s":"VARO","t":2011.69,"v":77.6},{"s":"VARO","t":2011.88,"v":77.5},{"s":"VARO","t":2012.07,"v":77.6},{"s":"VARO","t":2012.20,"v":78},{"s":"VARO","t":2012.36,"v":80},{"s":"VARO","t":2012.61,"v":81},{"s":"VARO","t":2012.82,"v":82},{"s":"VARO","t":2013.03,"v":84},{"s":"VARO","t":2013.20,"v":87},{"s":"VARO","t":2013.32,"v":90},{"s":"VARO","t":2013.48,"v":94},{"s":"VARO","t":2013.61,"v":101},{"s":"VARO","t":2013.72,"v":107},{"s":"VARO","t":2013.91,"v":108},{"s":"VARO","t":2014.04,"v":109},{"s":"VARO","t":2014.20,"v":112},{"s":"VARO","t":2014.29,"v":116},{"s":"VARO","t":2014.36,"v":118},{"s":"VARO","t":2014.45,"v":118.5},{"s":"VARO","t":2014.54,"v":119.1},{"s":"VARO","t":2014.61,"v":121},{"s":"VARO","t":2014.70,"v":123},{"s":"VARO","t":2014.79,"v":125},{"s":"VARO","t":2014.92,"v":124},{"s":"VARO","t":2014.99,"v":120},{"s":"VARO","t":2015.04,"v":115.6},{"s":"VARO","t":2015.08,"v":106},{"s":"VARO","t":2015.12,"v":107},{"s":"VARO","t":2015.24,"v":111},{"s":"VARO","t":2015.29,"v":113.1},{"s":"VARO","t":2015.37,"v":110},{"s":"VARO","t":2015.45,"v":108.5},{"s":"VARO","t":2015.54,"v":114.5},{"s":"VARO","t":2015.67,"v":116.6},
{"s":"VATO","t":2005.45,"v":37.5},{"s":"VATO","t":2005.66,"v":36},{"s":"VATO","t":2005.91,"v":35},{"s":"VATO","t":2006.10,"v":38},{"s":"VATO","t":2006.23,"v":47},{"s":"VATO","t":2006.38,"v":38},{"s":"VATO","t":2006.54,"v":38},{"s":"VATO","t":2006.75,"v":39},{"s":"VATO","t":2006.96,"v":40},{"s":"VATO","t":2007.17,"v":44.5},{"s":"VATO","t":2007.30,"v":48},{"s":"VATO","t":2007.36,"v":55},{"s":"VATO","t":2007.46,"v":50.5},{"s":"VATO","t":2007.67,"v":54.5},{"s":"VATO","t":2007.86,"v":60},{"s":"VATO","t":2007.96,"v":72},{"s":"VATO","t":2008.11,"v":70},{"s":"VATO","t":2008.30,"v":71},{"s":"VATO","t":2008.43,"v":68.5},{"s":"VATO","t":2008.47,"v":61},{"s":"VATO","t":2008.68,"v":61},{"s":"VATO","t":2008.87,"v":60.5},{"s":"VATO","t":2009.05,"v":62},{"s":"VATO","t":2009.24,"v":61},{"s":"VATO","t":2009.43,"v":60.5},{"s":"VATO","t":2009.68,"v":65},{"s":"VATO","t":2009.93,"v":69},{"s":"VATO","t":2010.18,"v":76},{"s":"VATO","t":2010.28,"v":80.5},{"s":"VATO","t":2010.36,"v":93},{"s":"VATO","t":2010.42,"v":82},{"s":"VATO","t":2010.56,"v":83.5},{"s":"VATO","t":2010.69,"v":84},{"s":"VATO","t":2010.81,"v":82},{"s":"VATO","t":2010.94,"v":81},{"s":"VATO","t":2011.10,"v":80.5},{"s":"VATO","t":2011.25,"v":84},{"s":"VATO","t":2011.35,"v":86.5},{"s":"VATO","t":2011.40,"v":90.7},{"s":"VATO","t":2011.50,"v":82.5},{"s":"VATO","t":2011.69,"v":79.5},{"s":"VATO","t":2011.88,"v":79},{"s":"VATO","t":2012.07,"v":79},{"s":"VATO","t":2012.20,"v":77.6},{"s":"VATO","t":2012.36,"v":79.5},{"s":"VATO","t":2012.61,"v":80},{"s":"VATO","t":2012.82,"v":81},{"s":"VATO","t":2013.03,"v":83},{"s":"VATO","t":2013.20,"v":86},{"s":"VATO","t":2013.32,"v":89},{"s":"VATO","t":2013.48,"v":92},{"s":"VATO","t":2013.61,"v":95},{"s":"VATO","t":2013.72,"v":97},{"s":"VATO","t":2013.91,"v":98},{"s":"VATO","t":2014.04,"v":101},{"s":"VATO","t":2014.20,"v":106},{"s":"VATO","t":2014.29,"v":115.6},{"s":"VATO","t":2014.36,"v":117},{"s":"VATO","t":2014.45,"v":118},{"s":"VATO","t":2014.54,"v":112},{"s":"VATO","t":2014.61,"v":116.6},{"s":"VATO","t":2014.70,"v":118},{"s":"VATO","t":2014.79,"v":119.1},{"s":"VATO","t":2014.92,"v":121.6},{"s":"VATO","t":2014.99,"v":115.6},{"s":"VATO","t":2015.04,"v":117},{"s":"VATO","t":2015.08,"v":118.5},{"s":"VATO","t":2015.12,"v":120.2},{"s":"VATO","t":2015.24,"v":122},{"s":"VATO","t":2015.29,"v":125.2},{"s":"VATO","t":2015.37,"v":127},{"s":"VATO","t":2015.45,"v":129.8},{"s":"VATO","t":2015.54,"v":131.5},{"s":"VATO","t":2015.67,"v":135.8}
]},
"resolve": {"axis": {"x": "independent"}},
"layer": [
{
"data": {"name": "prices"},
"mark": {"type": "line", "strokeWidth": 1.7, "clip": true},
"encoding": {
"x": {"field": "t", "type": "quantitative",
"scale": {"domain": [2005.4375, 2015.682], "nice": false, "zero": false},
"axis": {"orient": "bottom", "title": null, "grid": false, "labels": false,
"values": [2005.697,2005.949,2006.201,2006.453,2006.704,2006.956,2007.208,2007.46,2007.712,2007.964,2008.216,2008.467,2008.719,2008.971,2009.223,2009.475,2009.727,2009.978,2010.23,2010.482,2010.734,2010.986,2011.238,2011.49,2011.741,2011.993,2012.245,2012.497,2012.749,2013.001,2013.253,2013.504,2013.756,2014.008,2014.26,2014.512,2014.764,2015.015,2015.267,2015.519],
"tickSize": {"condition": {"test": "abs((datum.value-2006.453)/1.00741 - round((datum.value-2006.453)/1.00741)) < 0.1", "value": 8}, "value": 4},
"tickColor": "#404040", "tickWidth": 1.5, "domainColor": "#404040", "domainWidth": 2}},
"y": {"field": "v", "type": "quantitative",
"scale": {"domain": [20, 160], "nice": false, "zero": false},
"axis": {"title": null, "grid": false, "values": [20,40,60,80,100,120,140,160], "tickSize": 9, "tickColor": "#404040", "tickWidth": 1.5, "domainColor": "#404040", "domainWidth": 2, "labelFont": "DejaVu Serif", "labelFontSize": 16, "labelColor": "#222222", "labelPadding": 9}},
"color": {"field": "s", "type": "nominal",
"scale": {"domain": ["BGMF","VAGO","VAMT","VAMS-CG","VAMS-DOU","VAMS-TL","VAMG","VASP-ARAC","VASP-BAMA","VASP-PP","VASP-SJRP","VAPR","VARS","VARO","VATO"],
"range": ["#0000FF","#FF0000","#008000","#000000","#008080","#800080","#808000","#000080","#400040","#808080","#A8A8A8","#00FFFF","#FFFF00","#0000EE","#FF0000"]},
"legend": {"orient": "none", "legendX": 150, "legendY": 444, "direction": "horizontal", "columns": 3, "title": null, "padding": 0,
"symbolType": "M-1.532,0H6.468", "symbolSize": 138, "symbolStrokeWidth": 1.5, "symbolOffset": 0,
"labelFont": "Liberation Serif", "labelFontSize": 18, "labelColor": "#222222", "labelOffset": 38, "columnPadding": 14, "rowPadding": 0, "labelLimit": 300}}
}
},
{
"data": {"name": "prices"},
"mark": {"type": "line", "opacity": 0},
"encoding": {
"x": {"field": "t", "type": "quantitative",
"axis": {"orient": "bottom", "title": null, "grid": false, "ticks": false, "domain": false,
"values": [2006.015, 2007.961, 2010.02, 2012.016, 2013.987, 2015.669],
"labelExpr": "datum.value < 2007 ? '06' : datum.value < 2009 ? '08' : datum.value < 2011 ? '10' : datum.value < 2013 ? '12' : datum.value < 2015 ? '14' : '16'",
"labelFont": "DejaVu Serif", "labelFontSize": 16, "labelColor": "#222222", "labelPadding": 14, "labelFlush": false, "labelOverlap": false, "labelBound": false}},
"y": {"field": "v", "type": "quantitative"},
"detail": {"field": "s"}
}
},
{
"data": {"values": [{}]},
"mark": {"type": "rule", "clip": false, "color": "#000000", "strokeWidth": 1.5},
"encoding": {
"x": {"datum": 2004.73, "type": "quantitative", "axis": null},
"x2": {"datum": 2015.81},
"y": {"datum": 164.6, "type": "quantitative"}
}
}
]
}
